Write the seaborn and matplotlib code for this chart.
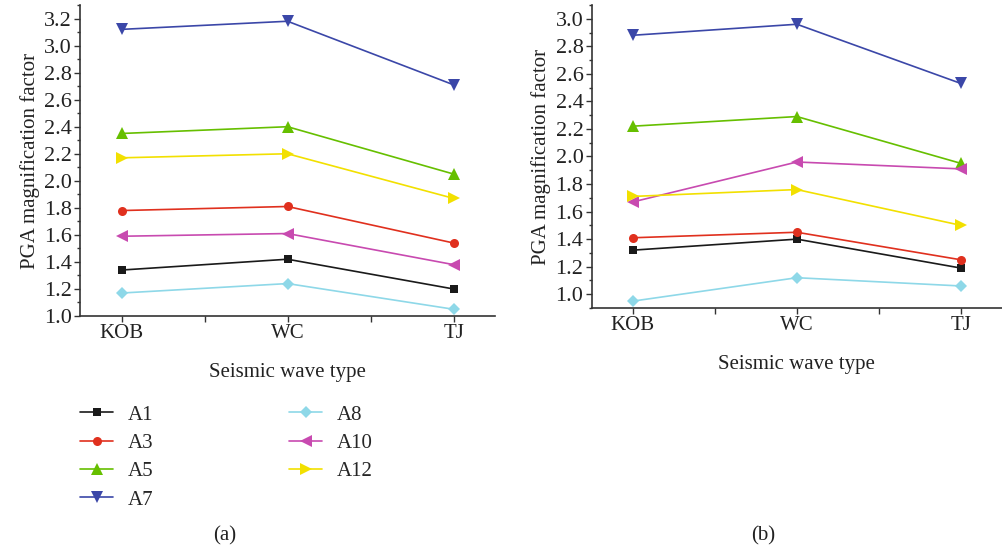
import pandas as pd
import matplotlib
matplotlib.use("Agg")
import matplotlib.pyplot as plt
import seaborn as sns
from matplotlib.ticker import MultipleLocator, FixedLocator

# Data
waves = ["KOB", "WC", "TJ"]
series = ["A1", "A3", "A5", "A7", "A8", "A10", "A12"]

# panel (a)
a_A1 = [1.34, 1.42, 1.20]
a_A3 = [1.78, 1.81, 1.54]
a_A5 = [2.35, 2.40, 2.05]
a_A7 = [3.12, 3.18, 2.71]
a_A8 = [1.17, 1.24, 1.05]
a_A10 = [1.59, 1.61, 1.38]
a_A12 = [2.17, 2.20, 1.87]

# panel (b)
b_A1 = [1.32, 1.40, 1.19]
b_A3 = [1.41, 1.45, 1.25]
b_A5 = [2.22, 2.29, 1.95]
b_A7 = [2.88, 2.96, 2.53]
b_A8 = [0.95, 1.12, 1.06]
b_A10 = [1.67, 1.96, 1.91]
b_A12 = [1.71, 1.76, 1.50]

colors = {"A1": "#1a1a1a", "A3": "#e0301e", "A5": "#66bf00", "A7": "#3b47a8",
          "A8": "#8ed8e8", "A10": "#c84ab0", "A12": "#f2e000"}
markers = {"A1": "s", "A3": "o", "A5": "^", "A7": "v",
           "A8": "D", "A10": "<", "A12": ">"}
msizes = {"A1": 5.5, "A3": 6.5, "A5": 8, "A7": 8,
          "A8": 6.5, "A10": 8, "A12": 8}


def to_long(vals):
    rows = []
    for name, v in zip(series, vals):
        for w, y in zip(waves, v):
            rows.append({"wave": w, "value": y, "series": name})
    return pd.DataFrame(rows)


df_a = to_long([a_A1, a_A3, a_A5, a_A7, a_A8, a_A10, a_A12])
df_b = to_long([b_A1, b_A3, b_A5, b_A7, b_A8, b_A10, b_A12])

sns.set_style("ticks")
plt.rcParams["font.family"] = ["Liberation Serif", "DejaVu Serif"]

fig = plt.figure(figsize=(10.03, 5.52), dpi=100)
ax1 = fig.add_axes([0.0798, 0.4275, 0.4138, 0.5634])
ax2 = fig.add_axes([0.590, 0.442, 0.409, 0.549])


def draw(ax, df, ylim):
    for name in series:
        sub = df[df["series"] == name]
        sns.lineplot(data=sub, x="wave", y="value", color=colors[name],
                     marker=markers[name], markersize=msizes[name],
                     markeredgewidth=0, linewidth=1.2, sort=False,
                     label=name, ax=ax)
    ax.set_xlim(-0.25, 2.25)
    ax.set_ylim(*ylim)
    ax.yaxis.set_major_locator(MultipleLocator(0.2))
    ax.yaxis.set_minor_locator(MultipleLocator(0.1))
    ax.xaxis.set_minor_locator(FixedLocator([0.5, 1.5]))
    ax.yaxis.set_major_formatter(matplotlib.ticker.FormatStrFormatter("%.1f"))
    ax.tick_params(axis="both", which="major", labelsize=15, length=4,
                   width=1, color="#333333", labelcolor="#222222", pad=2)
    ax.tick_params(axis="y", which="major", labelsize=16)
    ax.tick_params(axis="both", which="minor", length=2.5, width=1,
                   color="#333333")
    ax.tick_params(axis="x", which="minor", length=4)
    ax.set_xlabel("Seismic wave type", fontsize=15, color="#222222", labelpad=14)
    ax.set_ylabel("PGA magnification factor", fontsize=15, color="#222222",
                  labelpad=3)
    sns.despine(ax=ax)
    for s in ["left", "bottom"]:
        ax.spines[s].set_color("#333333")
        ax.spines[s].set_linewidth(1.2)


draw(ax1, df_a, (1.0, 3.3))
draw(ax2, df_b, (0.9, 3.1))

handles, labels = ax1.get_legend_handles_labels()
ax1.get_legend().remove()
ax2.get_legend().remove()
fig.legend(handles, labels, loc="upper left", bbox_to_anchor=(0.0798, 0.266),
           ncol=2, frameon=False, fontsize=15, handlelength=1.6,
           handletextpad=0.7, columnspacing=6.5, labelspacing=0.42,
           borderpad=0, borderaxespad=0)

fig.text(0.2243, 0.012, "(a)", ha="center", va="bottom", fontsize=15,
         color="#222222")
fig.text(0.7607, 0.012, "(b)", ha="center", va="bottom", fontsize=15,
         color="#222222")

fig.savefig("out.png", dpi=100)
